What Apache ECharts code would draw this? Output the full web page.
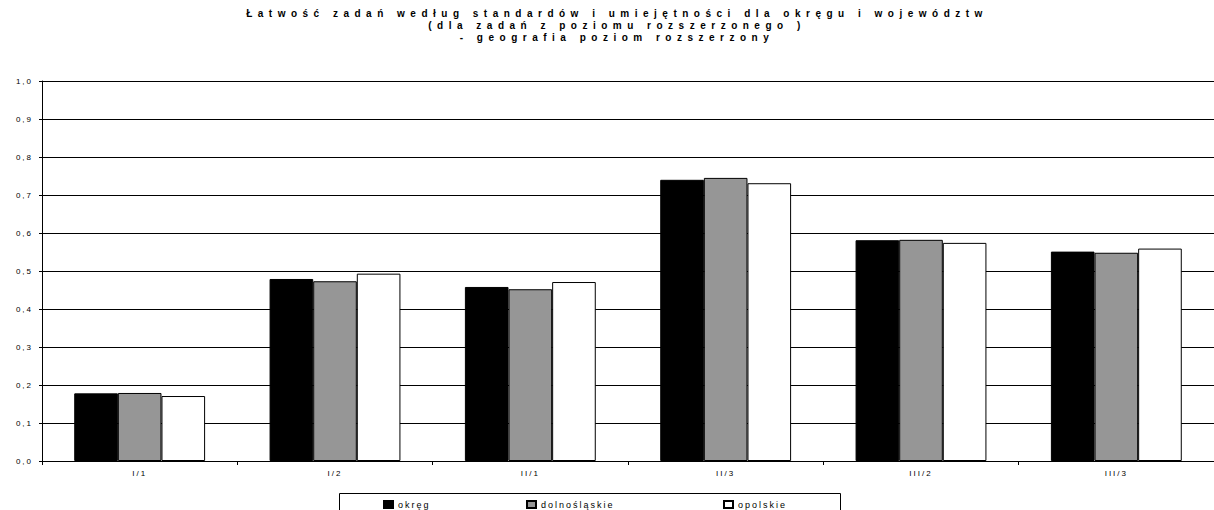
<!DOCTYPE html>
<html>
<head>
<meta charset="utf-8">
<script src="https://cdn.jsdelivr.net/npm/echarts@6/dist/echarts.min.js"></script>
<style>
  html, body { margin: 0; padding: 0; background: #fff; }
  #chart { width: 1214px; height: 510px; }
  /* the original chart uses widely spaced letters */
  #chart text { letter-spacing: 2px; }
  #chart text[style*="bold"] { letter-spacing: 5.5px; }
</style>
</head>
<body>
<div id="chart"></div>
<script>
var categories = ['I/1', 'I/2', 'II/1', 'II/3', 'III/2', 'III/3'];
var okreg = [0.178, 0.479, 0.458, 0.740, 0.581, 0.551];
var dolnoslaskie = [0.179, 0.473, 0.452, 0.745, 0.582, 0.548];
var opolskie = [0.171, 0.493, 0.471, 0.731, 0.574, 0.559];
var yTicks = [0, 1, 0.1];

var font = 'Arial, "Liberation Sans", sans-serif';
var myChart = echarts.init(document.getElementById('chart'), null, { renderer: 'svg' });

function barSeries(name, data, color) {
  return {
    name: name,
    type: 'bar',
    data: data,
    barGap: '0%',
    barCategoryGap: '33%',
    itemStyle: { color: color, borderColor: '#000', borderWidth: 1 }
  };
}

function legendAt(name, left) {
  return {
    data: [name],
    left: left,
    top: 500,
    padding: 0,
    icon: 'rect',
    itemWidth: 9,
    itemHeight: 7,
    textStyle: { fontFamily: font, fontSize: 9, color: '#000', padding: [0, 0, 0, 0] },
    selectedMode: false
  };
}

option = {
  backgroundColor: '#fff',
  animation: false,
  textStyle: { fontFamily: font },
  title: {
    text: 'Łatwość zadań według standardów i umiejętności dla okręgu i województw\n(dla zadań z poziomu rozszerzonego )\n- geografia poziom rozszerzony',
    left: 612,
    top: 2,
    textAlign: 'center',
    textStyle: { fontFamily: font, fontSize: 10, fontWeight: 'bold', color: '#000', lineHeight: 12 }
  },
  grid: { left: 42, top: 81, width: 1182, height: 380, containLabel: false },
  legend: [
    legendAt('okręg', 383),
    legendAt('dolnośląskie', 526),
    legendAt('opolskie', 723)
  ],
  xAxis: {
    type: 'category',
    data: categories,
    axisLine: { lineStyle: { color: '#000', width: 1 } },
    axisTick: { show: true, length: 4, lineStyle: { color: '#000' } },
    axisLabel: { fontFamily: font, fontSize: 8, color: '#000', margin: 8 },
    splitLine: { show: false }
  },
  yAxis: {
    type: 'value',
    min: yTicks[0],
    max: yTicks[1],
    interval: yTicks[2],
    axisLine: { show: true, lineStyle: { color: '#000', width: 1 } },
    axisTick: { show: true, length: 3, lineStyle: { color: '#000' } },
    axisLabel: {
      fontFamily: font, fontSize: 8, color: '#000', margin: 9,
      formatter: function (v) { return v.toFixed(1).replace('.', ','); }
    },
    splitLine: { show: true, lineStyle: { color: '#000', width: 1 } }
  },
  graphic: [{
    type: 'rect',
    shape: { x: 339.5, y: 493.5, width: 501, height: 30 },
    style: { fill: 'none', stroke: '#000', lineWidth: 1 },
    silent: true
  }],
  series: [
    barSeries('okręg', okreg, '#000000'),
    barSeries('dolnośląskie', dolnoslaskie, '#969696'),
    barSeries('opolskie', opolskie, '#ffffff')
  ]
};
myChart.setOption(option);
</script>
</body>
</html>
